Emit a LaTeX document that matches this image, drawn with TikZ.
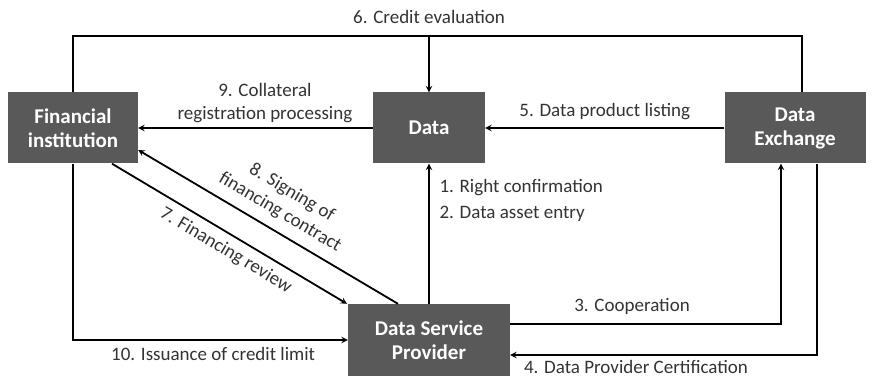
\documentclass[tikz,border=0pt]{standalone}
\usepackage{fontspec}
\setmainfont{Carlito}
\definecolor{boxgray}{HTML}{595959}
\tikzset{
  party/.style={fill=boxgray,text=white,font=\fontsize{21}{24}\selectfont\bfseries,align=center,inner sep=0pt,minimum height=71pt},
  flow/.style={->,line width=1.8pt},
  lbl/.style={font=\fontsize{19}{23}\selectfont,text=black!80,align=center}
}
\begin{document}
\begin{tikzpicture}[>=stealth,x=1pt,y=-1pt]
			\useasboundingbox (0,0) rectangle (873,377);
			\node[party,minimum width=130pt](fi) at (73,128) {Financial\\institution};
			\node[party,minimum width=112pt](data) at (429,128) {Data};
			\node[party,minimum width=141pt](ex) at (795,128) {Data\\Exchange};
			\node[party,minimum width=162pt,minimum height=72pt](dsp) at (429,340) {Data Service\\Provider};
			\coordinate (top) at (429,36);
			% 6: credit evaluation round the top
			\draw[line width=1.8pt] (fi.north) |- (top) -| ([xshift=7pt]ex.north);
			\draw[flow] (top) -- (data.north);
			\node[lbl] (t6) at (429,17) {6. Credit evaluation};
			% horizontal arrows between the top row
			\draw[flow] (data.west) -- (fi.east) node[lbl,pos=0.46,above=1pt] (t9) {9. Collateral\\registration processing};
			\draw[flow] (ex.west) -- (data.east) node[lbl,midway,above=4pt] (t5) {5. Data product listing};
			% 1, 2: provider up to data
			\draw[flow] (dsp.north) -- (data.south);
			\node[lbl,anchor=west] (t1) at (436,188) {1. Right confirmation};
			\node[lbl,anchor=west] (t2) at (436,214) {2. Data asset entry};
			% 3, 4: provider and exchange
			\draw[flow] ([yshift=16pt]dsp.east) -| ([xshift=-14pt]ex.south) node[lbl,pos=0.225,above=5pt] (t3) {3. Cooperation};
			\draw[flow] ([xshift=22pt]ex.south) |- ([yshift=-15pt]dsp.east) node[lbl,pos=0.795,below=1pt] (t4) {4. Data Provider Certification};
			% 7, 8: diagonal arrows
			\draw[flow] ([xshift=39pt]fi.south) -- ([xshift=-82pt]dsp.north) node[lbl,pos=0.52,sloped,below=4pt] (t7) {7. Financing review};
			\draw[flow] ([xshift=-31pt]dsp.north) -- ([yshift=-22pt]fi.east) node[lbl,pos=0.49,sloped,above=6pt] (t8) {8. Signing of\\financing contract};
			% 10: institution down to provider
			\draw[flow] (fi.south) |- (dsp.west) node[lbl,pos=0.755,below=3pt] (t10) {10. Issuance of credit limit};
		\end{tikzpicture}
\end{document}
